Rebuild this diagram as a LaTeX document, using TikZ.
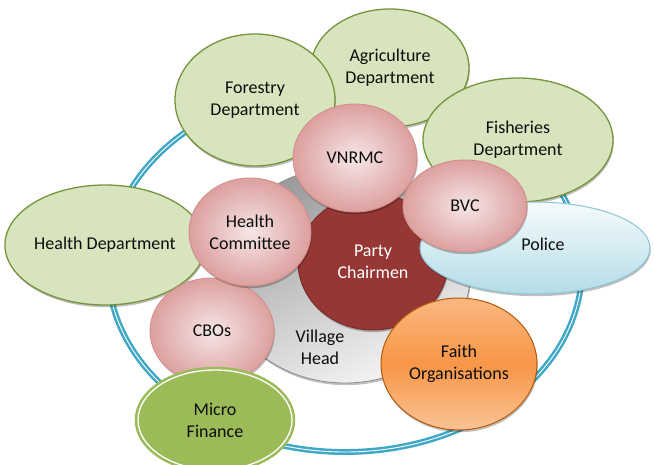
\documentclass[tikz,border=0pt]{standalone}
\usepackage{fontspec}
\setmainfont{Carlito}
\usetikzlibrary{shapes.geometric,shadows}
\definecolor{ringblue}{HTML}{3FA8C6}
\definecolor{grfill}{HTML}{D7E4BD}
\definecolor{grline}{HTML}{77933C}
\definecolor{pinkin}{HTML}{F6E6E6}
\definecolor{pinkout}{HTML}{DCA09F}
\definecolor{pinkline}{HTML}{D38F8D}
\definecolor{partyfill}{HTML}{953735}
\definecolor{partyline}{HTML}{7A2A28}
\definecolor{policetop}{HTML}{F5FBFD}
\definecolor{policebot}{HTML}{B4DCE6}
\definecolor{policeline}{HTML}{8CC4D4}
\definecolor{faithtop}{HTML}{F9B880}
\definecolor{faithmid}{HTML}{F79646}
\definecolor{faithbot}{HTML}{FAC396}
\definecolor{faithline}{HTML}{B45A0A}
\definecolor{microgreen}{HTML}{9BBB59}
\definecolor{txt}{HTML}{0D0D0D}
\begin{document}
\begin{tikzpicture}[x=1pt,y=-1pt,
  font=\fontsize{18}{21.8}\selectfont, text=txt,
  base/.style={ellipse, inner sep=0pt, align=center},
  shad/.style={drop shadow={shadow xshift=0.8pt, shadow yshift=-2.2pt, opacity=0.25, fill=black}},
  greenell/.style={base, shad, draw=grline, line width=1.3pt, fill=grfill},
  pinkc/.style={base, shad, draw=pinkline, line width=0.9pt, inner color=pinkin, outer color=pinkout},
  ringst/.style={base, draw=ringblue, line width=2.5pt, double=white, double distance=0.9pt}]
\useasboundingbox (0,0) rectangle (654,464);

% outer ring
\node[ringst, minimum width=474pt, minimum height=368pt] (ring) at (345,268) {};

% village head and party chairmen
\node[base, shad, draw=black!45, line width=0.8pt, top color=black!40, bottom color=black!4, shading angle=25,
      minimum width=250pt, minimum height=216pt] (village) at (345,275) {};
\node[align=center] (villagetxt) at (320,347) {Village\\Head};
\node[base, shad, draw=partyline, line width=0.9pt, fill=partyfill, text=white,
      minimum width=150pt, minimum height=136pt] (party) at (373,262) {Party\\Chairmen};

% green departments
\node[greenell, minimum width=186pt, minimum height=120pt] (healthdept) at (105,245) {Health Department};
\node[greenell, minimum width=158pt, minimum height=118pt] (agri) at (390,68) {Agriculture\\Department};
\node[greenell, minimum width=160pt, minimum height=132pt] (forestry) at (255,100) {Forestry\\Department};
\node[greenell, minimum width=190pt, minimum height=124pt] (fisheries) at (518,140) {Fisheries\\Department};

% police and faith
\node[base, shad, draw=policeline, line width=1pt, top color=policetop, bottom color=policebot,
      minimum width=230pt, minimum height=92pt] (police) at (535,248) {};
\node (policetxt) at (543,244) {Police};
\node[base, shad, draw=faithline, line width=1pt, top color=faithtop, bottom color=faithbot, middle color=faithmid,
      minimum width=156pt, minimum height=132pt] (faith) at (459,364) {Faith\\Organisations};

% pink committees
\node[pinkc, minimum width=124pt, minimum height=108pt] (vnrmc) at (355,158) {VNRMC};
\node[pinkc, minimum width=124pt, minimum height=106pt] (cbos) at (212,331) {CBOs};
\node[pinkc, minimum width=122pt, minimum height=108pt] (healthcom) at (250,232) {Health\\Committee};
\node[pinkc, minimum width=124pt, minimum height=92pt] (bvc) at (465,206) {BVC};

% micro finance
\node[base, draw=microgreen, fill=microgreen, line width=2.6pt, double=white, double distance=1.3pt,
      minimum width=154pt, minimum height=100pt] (micro) at (215,420) {Micro\\Finance};
\end{tikzpicture}
\end{document}
